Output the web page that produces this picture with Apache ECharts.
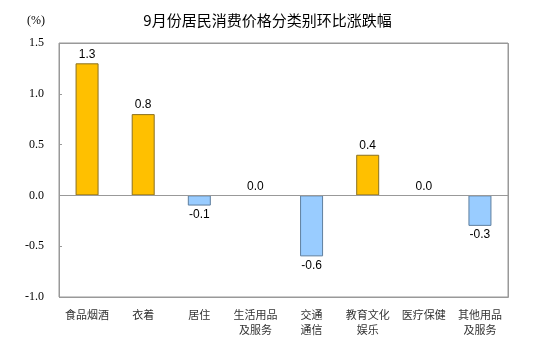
<!DOCTYPE html>
<html><head><meta charset="utf-8">
<script src="https://cdn.jsdelivr.net/npm/echarts@6/dist/echarts.min.js"></script>
<style>html,body{margin:0;padding:0;background:#fff}#c{width:535px;height:349px}</style>
</head><body><div id="c"></div>
<script>
var categories = ['食品烟酒','衣着','居住','生活用品\n及服务','交通\n通信','教育文化\n娱乐','医疗保健','其他用品\n及服务'];
var values = [1.3, 0.8, -0.1, 0.0, -0.6, 0.4, 0.0, -0.3];
var yTicks = {min: -1.0, max: 1.5, interval: 0.5};

var G = {left: 59, right: 27, top: 43, bottom: 52};
var W = 535, H = 349;
var chart = echarts.init(document.getElementById('c'));
chart.setOption({
  backgroundColor: '#fff',
  animation: false,
  title: {
    text: '9月份居民消费价格分类别环比涨跌幅',
    left: 'center', top: 8,
    textStyle: {fontFamily: 'Noto Sans CJK SC', fontSize: 15, fontWeight: 'normal', color: '#000'}
  },
  graphic: [{
    type: 'text', left: 27, top: 15,
    style: {text: '(%)', font: '12px "Liberation Serif"', fill: '#000'}
  }, {
    type: 'rect', left: G.left, top: G.top, z: 50, silent: true,
    shape: {x: 0, y: 0, width: W - G.left - G.right, height: H - G.top - G.bottom},
    style: {fill: 'transparent', stroke: '#999999', lineWidth: 1}
  }],
  grid: {left: G.left, right: G.right, top: G.top, bottom: G.bottom, show: true,
    borderColor: '#999999', borderWidth: 1},
  xAxis: {
    type: 'category', data: categories,
    axisLine: {onZero: false, show: false},
    axisTick: {show: false},
    axisLabel: {interval: 0, margin: 10, color: '#333', fontFamily: 'Noto Sans CJK SC', fontSize: 11, lineHeight: 15}
  },
  yAxis: {
    type: 'value', min: yTicks.min, max: yTicks.max, interval: yTicks.interval,
    axisLine: {show: false},
    axisTick: {show: true, inside: true, length: 3, lineStyle: {color: '#999999', width: 1}},
    splitLine: {show: false},
    axisLabel: {margin: 15, color: '#000', fontFamily: 'Liberation Serif', fontSize: 12,
      formatter: function(v){ return v.toFixed(1); }}
  },
  series: [{
    type: 'bar', barWidth: 23,
    data: values.map(function(v){
      return {value: v,
        itemStyle: v > 0 ? {color: '#FFC000', borderColor: '#8a7020', borderWidth: 1}
                 : v < 0 ? {color: '#99CCFF', borderColor: '#5f7f9f', borderWidth: 1}
                 : {color: 'rgba(0,0,0,0)', borderWidth: 0},
        label: {position: v >= 0 ? 'top' : 'bottom'}};
    }),
    label: {show: true, distance: 3, color: '#000', fontFamily: 'Liberation Sans', fontSize: 12,
      formatter: function(p){ return p.value.toFixed(1); }},
    markLine: {silent: true, symbol: 'none', label: {show: false},
      lineStyle: {color: '#999999', type: 'solid', width: 1},
      data: [{yAxis: 0}]}
  }]
});
</script></body></html>
